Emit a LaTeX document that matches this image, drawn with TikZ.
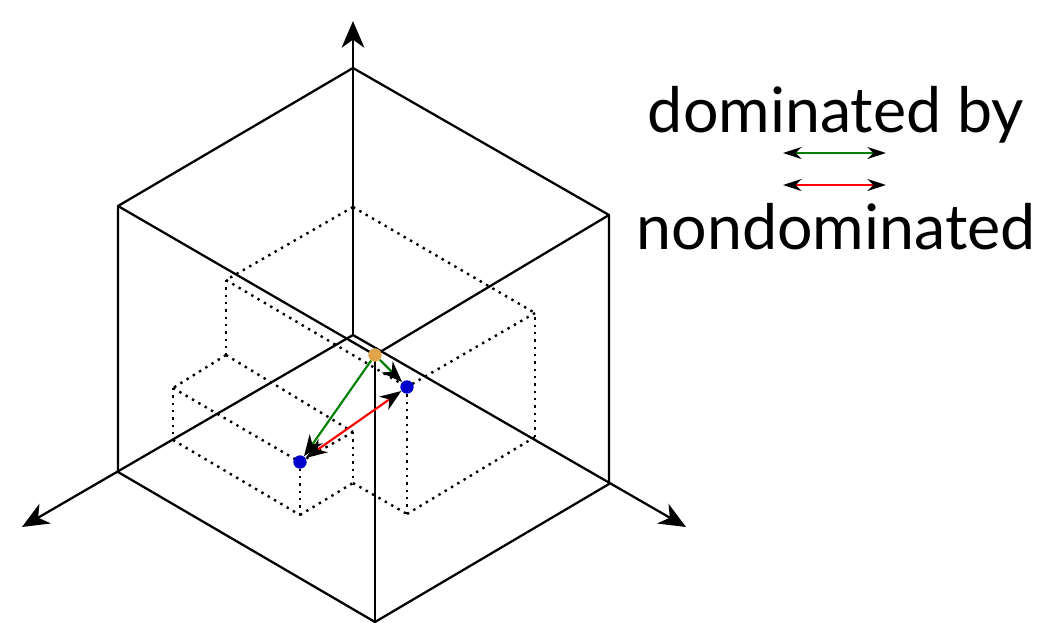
\documentclass[tikz,border=0pt]{standalone}
\usepackage{fontspec}
\setmainfont{Lato}
\usepackage{xcolor}
\usetikzlibrary{arrows.meta}
\definecolor{mygreen}{RGB}{0,128,0}
\definecolor{mygold}{RGB}{224,165,75}
\definecolor{myblue}{RGB}{0,0,205}
\begin{document}
\begin{tikzpicture}[
        x=0.75pt, y=-0.75pt,
        bigtip/.tip={Stealth[black, length=16pt, width=12pt, inset=5pt]},
        legtip/.tip={Stealth[black, length=14pt, width=9pt, inset=4.5pt]},
        edge/.style={line width=1.7pt, line cap=round, line join=round},
        hidden/.style={line width=1.8pt, dash pattern=on 1.8pt off 3.7pt},
        axis/.style={edge, -{Stealth[length=20pt, width=17pt, inset=6pt]}},
        green arr/.style={line width=1.6pt, mygreen},
        red arr/.style={line width=1.6pt, red},
        dot/.style={circle, inner sep=0pt, minimum size=10pt},
        lab/.style={font=\fontsize{47pt}{47pt}\selectfont, anchor=base}
      ]
        \useasboundingbox (0,0) rectangle (1043,622);
        % outer cube
        \coordinate (O) at (353,335);
        \coordinate (top) at (353,68);
        \coordinate (ul) at (118,206);
        \coordinate (ur) at (609,215);
        \coordinate (ll) at (118,472);
        \coordinate (lr) at (609,484);
        \coordinate (bot) at (375,622);
        \coordinate (zend) at (353,21);
        \coordinate (xend) at (22,527);
        \coordinate (yend) at (686,527);
        % dotted boxes
        \coordinate (a) at (353,207);
        \coordinate (b) at (226,280);
        \coordinate (c) at (535,313);
        \coordinate (d) at (226,355);
        \coordinate (e) at (173,388);
        \coordinate (f) at (173,440);
        \coordinate (g) at (300,515);
        \coordinate (h) at (353,432);
        \coordinate (i) at (353,483);
        \coordinate (j) at (407,514);
        \coordinate (k) at (535,437);
        \coordinate (q1) at (300,462);
        \coordinate (q2) at (407,387);
        \coordinate (q0) at (375,355);
        \foreach \u/\v in {a/b, a/c, b/d, d/e, d/h, e/q1, e/f, f/g, g/q1, q1/h, h/i, g/i, i/j, j/q2, j/k, k/c, c/q2, b/q2}
          \draw[hidden] (\u) -- (\v);
        \draw[edge] (top) -- (ul) -- (ll) -- (bot) -- (lr) -- (ur) -- cycle;
        \draw[edge] (ul) -- (q0) -- (ur);
        \draw[edge] (q0) -- (bot);
        \draw[axis] (O) -- (zend);
        \draw[axis] (O) -- (xend);
        \draw[axis] (O) -- (yend);
        \node[dot, fill=myblue] (p1) at (q1) {};
        \node[dot, fill=myblue] (p2) at (q2) {};
        \node[dot, fill=mygold] (ref) at (q0) {};
        \draw[green arr, -{bigtip}] (ref) -- (p1);
        \draw[green arr, -{bigtip}] (ref) -- (p2);
        \draw[red arr, {bigtip}-{bigtip}] (p1) -- (p2);
        % legend
        \node[lab] (dom) at (836,132) {dominated by};
        \coordinate (g1) at (783,153);
        \coordinate (g2) at (886,153);
        \coordinate (r1) at (783,185);
        \coordinate (r2) at (886,185);
        \draw[green arr, {legtip}-{legtip}] (g1) -- (g2);
        \draw[red arr, {legtip}-{legtip}] (r1) -- (r2);
        \node[lab] (nondom) at (836,249) {nondominated};
      \end{tikzpicture}
\end{document}
